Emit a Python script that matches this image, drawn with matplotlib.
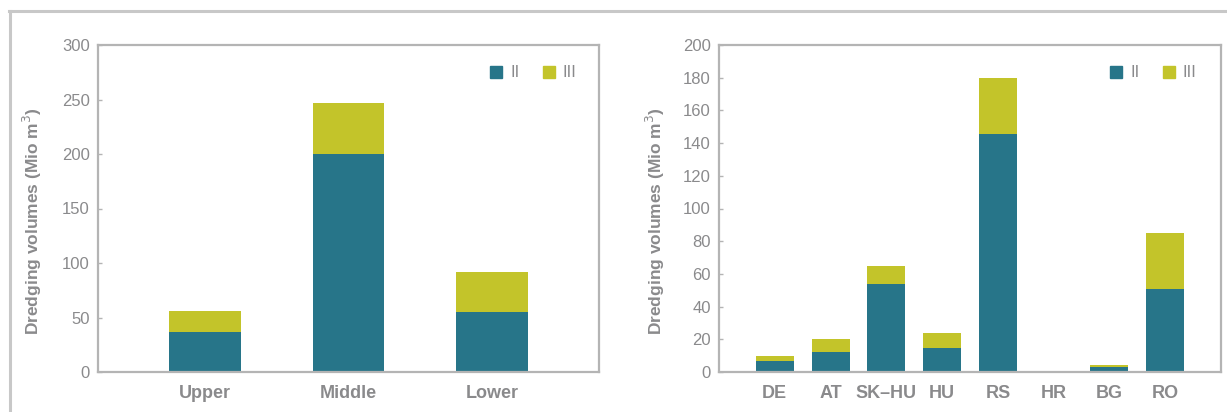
import matplotlib

matplotlib.use("Agg")
import matplotlib.pyplot as plt
from matplotlib.lines import Line2D
from matplotlib.patches import Rectangle

plt.rcParams["font.family"] = ["Liberation Sans", "DejaVu Sans"]

TEAL = "#277589"
OLIVE = "#c3c42a"
GREY_TXT = "#8a8a8c"
GREY_LINE = "#b4b4b4"

sections = ["Upper", "Middle", "Lower"]
sections_ii = [37, 200, 55]
sections_iii = [19, 47, 37]

countries = ["DE", "AT", "SK–HU", "HU", "RS", "HR", "BG", "RO"]
countries_ii = [6.5, 12, 54, 14.5, 145.5, 0, 3, 51]
countries_iii = [3.5, 8, 11, 9.5, 34.5, 0.5, 1, 34]

series_names = ["II", "III"]

fig = plt.figure(figsize=(12.27, 4.12), dpi=100)
W, H = 1227, 412


def px_axes(x0, y0, x1, y1):
    return fig.add_axes([x0 / W, 1 - y1 / H, (x1 - x0) / W, (y1 - y0) / H])


def style_axes(ax, ylim, yticks, label_dx):
    ax.set_ylim(*ylim)
    ax.set_yticks(yticks)
    for s in ax.spines.values():
        s.set_color(GREY_LINE)
        s.set_linewidth(1.6)
    ax.tick_params(axis="y", colors=GREY_LINE, labelcolor=GREY_TXT, labelsize=12,
                   length=3, width=1, pad=6, direction="in")
    ax.tick_params(axis="x", length=0, labelcolor=GREY_TXT, labelsize=13, pad=9)
    for lbl in ax.get_xticklabels():
        lbl.set_fontweight("bold")
    ax.set_ylabel("Dredging volumes (Mio m$^3$)", color=GREY_TXT, fontsize=12.5,
                  fontweight="bold")
    # label position in axes fraction (x from pixel offset, y slightly below middle)
    bb = ax.get_position()
    ax.yaxis.set_label_coords(-label_dx / (bb.width * W), 0.46)


def legend_px(x_sq1, x_sq2, y_top):
    # small square markers with labels, placed in pixel coordinates
    for xs, c, name in [(x_sq1, TEAL, series_names[0]), (x_sq2, OLIVE, series_names[1])]:
        fig.patches.append(Rectangle((xs / W, 1 - (y_top + 12) / H), 12 / W, 12 / H,
                                     transform=fig.transFigure, color=c))
        fig.text((xs + 20) / W, 1 - (y_top + 6.5) / H, name, color=GREY_TXT,
                 fontsize=12, va="center", ha="left")


# left chart
ax1 = px_axes(98, 45, 599, 372)
x1 = list(range(len(sections)))
ax1.bar(x1, sections_ii, width=0.5, color=TEAL, label=series_names[0])
ax1.bar(x1, sections_iii, width=0.5, bottom=sections_ii, color=OLIVE, label=series_names[1])
ax1.set_xlim(-0.74, 2.74)
ax1.set_xticks(x1)
ax1.set_xticklabels(sections)
style_axes(ax1, (0, 300), range(0, 301, 50), 54)
legend_px(490, 543, 66)

# right chart
ax2 = px_axes(719, 45, 1221, 372)
x2 = list(range(len(countries)))
ax2.bar(x2, countries_ii, width=0.68, color=TEAL, label=series_names[0])
ax2.bar(x2, countries_iii, width=0.68, bottom=countries_ii, color=OLIVE, label=series_names[1])
ax2.set_xlim(-1, 8)
ax2.set_xticks(x2)
ax2.set_xticklabels(countries)
style_axes(ax2, (0, 200), range(0, 201, 20), 52)
legend_px(1110, 1163, 66)

# outer panel frame (top and left edges)
fig.lines.append(Line2D([9 / W, 1], [1 - 11 / H, 1 - 11 / H], transform=fig.transFigure,
                        color="#c8c8c8", linewidth=2.2))
fig.lines.append(Line2D([10 / W, 10 / W], [1 - 11 / H, 0], transform=fig.transFigure,
                        color="#c8c8c8", linewidth=2.2))

fig.savefig("out.png", dpi=100, facecolor="white")
